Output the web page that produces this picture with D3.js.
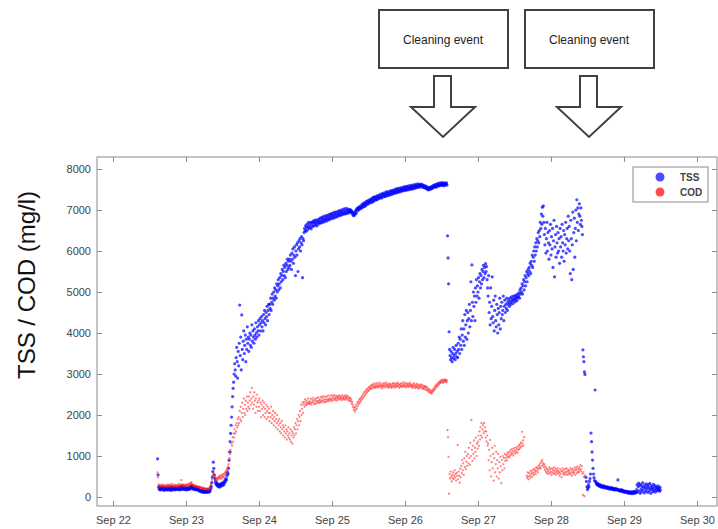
<!DOCTYPE html>
<html>
<head>
<meta charset="utf-8">
<script src="https://cdn.jsdelivr.net/npm/d3@7"></script>
<style>
body { margin: 0; background: #fff; }
text { font-family: "Liberation Sans", Arial, sans-serif; }
</style>
</head>
<body>
<svg width="718" height="529"></svg>
<script>
var svg = d3.select("svg"),
    plotLeft = 97, plotRight = 717, plotTop = 157, plotBottom = 506;

// sensor logs one sample every 10 minutes
var sampleMinutes = 10;

// axis ticks
let dayTicks = ["2015-09-22", "2015-09-23", "2015-09-24", "2015-09-25", "2015-09-26",
                "2015-09-27", "2015-09-28", "2015-09-29", "2015-09-30"];
let valueTicks = [0, 1000, 2000, 3000, 4000, 5000, 6000, 7000, 8000];

// TSS (mg/l)
let tssStartA = "2015-09-22T14:40:00Z";
let tssA = [
  930, 540, 250, 200, 180, 230, 170, 210, 190, 240, 200, 180, 220, 160, 190, 210, 230, 180, 200, 170,
  210, 180, 230, 190, 170, 220, 200, 160, 240, 190, 210, 180, 200, 230, 170, 190, 220, 200, 180, 210,
  190, 230, 210, 170, 250, 200, 180, 220, 260, 190, 210, 240, 180, 200, 230, 190, 210, 170, 220, 200,
  180, 210, 230, 190, 200, 250, 220, 270, 240, 200, 230, 190, 210, 180, 200, 220, 190, 170, 200, 180,
  170, 190, 150, 170, 140, 160, 130, 150, 120, 160, 140, 110, 150, 130, 120, 140, 110, 150, 130, 120,
  140, 120, 150, 130, 170, 210, 260, 350, 480, 620, 850, 700, 540, 450, 380, 330, 300, 350, 270, 310,
  260, 300, 240, 280, 320, 260, 300, 340, 280, 320, 360, 300, 350, 410, 380, 450, 420, 520, 600, 560,
  700, 900, 1100, 1350, 1550, 1750, 1950, 2200, 2450, 2650, 2800, 3000, 3250, 3100, 2950, 3400, 3650, 3300, 2900, 3550,
  3200, 3750, 4680, 3450, 3900, 3100, 4440, 3600, 3350, 3800, 4050, 3500, 3700, 3950, 3300, 3850, 3600, 4150, 3750, 3900,
  3550, 3850, 4000, 3700, 3950, 3650, 4200, 3800, 4050, 3900, 3750, 4100, 3950, 3850, 4250, 4000, 3900, 4150, 4050, 4300,
  3950, 4200, 4350, 4050, 4250, 4400, 4150, 4300, 4050, 4450, 4250, 4550, 4350, 4200, 4500, 4400, 4650, 4300, 4550, 4700,
  4450, 4700, 4600, 4850, 4550, 4750, 4950, 4700, 4850, 5000, 4800, 5100, 4900, 5050, 4850, 5200, 5000, 5150, 5300, 5050,
  5200, 5350, 5100, 5450, 5250, 5400, 5550, 5300, 5500, 5650, 5400, 5600, 5350, 5700, 5500, 5650, 5800, 5550, 5750, 5600,
  5800, 5650, 5900, 5750, 5550, 5950, 5800, 6050, 5700, 5900, 6100, 5850, 5400, 6000, 6150, 5900, 6200, 5500, 6050, 6250,
  6100, 6300, 6000, 6200, 6350, 6150, 5350, 6300, 6250, 6450, 6550, 6500, 6620, 6480, 6580, 6660, 6520, 6600, 6700, 6560,
  6640, 6580, 6700, 6540, 6680, 6620, 6720, 6600, 6690, 6750, 6630, 6710, 6660, 6760, 6610, 6700, 6740, 6650, 6780, 6690,
  6720, 6800, 6680, 6750, 6820, 6700, 6790, 6740, 6850, 6710, 6780, 6830, 6760, 6870, 6730, 6800, 6850, 6780, 6890, 6760,
  6830, 6900, 6800, 6860, 6920, 6790, 6880, 6840, 6940, 6810, 6890, 6950, 6850, 6910, 6830, 6970, 6880, 6930, 6860, 6990,
  6900, 6960, 6870, 6940, 7010, 6890, 6970, 6920, 7030, 6900, 6980, 6940, 7040, 6910, 6990, 6950, 7020, 6930, 7000, 6960,
  7010, 6950, 6990, 6930, 6960, 6880, 6930, 6860, 6920, 6880, 6950, 6990, 6920, 7020, 7040, 6980, 7060, 7010, 7080, 7030,
  7060, 7110, 7040, 7090, 7150, 7070, 7130, 7100, 7180, 7090, 7160, 7120, 7210, 7140, 7190, 7230, 7150, 7220, 7180, 7260,
  7200, 7250, 7180, 7280, 7230, 7310, 7210, 7270, 7320, 7240, 7300, 7260, 7340, 7250, 7310, 7360, 7280, 7330, 7290, 7380,
  7310, 7360, 7290, 7400, 7340, 7380, 7320, 7420, 7350, 7390, 7330, 7440, 7370, 7410, 7350, 7450, 7390, 7420, 7360, 7470,
  7400, 7440, 7380, 7480, 7420, 7460, 7400, 7500, 7430, 7470, 7410, 7520, 7450, 7490, 7430, 7530, 7460, 7500, 7440, 7540,
  7480, 7520, 7460, 7550, 7490, 7530, 7470, 7570, 7500, 7540, 7480, 7580, 7510, 7550, 7490, 7590, 7520, 7560, 7500, 7600,
  7530, 7570, 7510, 7610, 7550, 7580, 7520, 7620, 7560, 7590, 7540, 7630, 7570, 7600, 7550, 7640, 7580, 7610, 7560, 7620,
  7590, 7630, 7570, 7610, 7550, 7600, 7560, 7540, 7590, 7550, 7520, 7570, 7510, 7550, 7490, 7540, 7500, 7550, 7510, 7560,
  7520, 7570, 7530, 7590, 7550, 7600, 7560, 7620, 7570, 7600, 7560, 7630, 7580, 7650, 7600, 7620, 7590, 7660, 7610, 7640,
  7600, 7670, 7620, 7650, 7590, 7660, 7630, 7600, 7650, 7620, 7660, 7610
];

let tssStartB = "2015-09-26T14:00:00Z";
let tssB = [
  6370, 5830, 5200, 4030, 3600, 3450, 3350, 3550, 3400, 3300, 3500, 3650, 3380, 3450, 3600, 3350, 3500, 3700, 3420, 3550,
  3400, 3750, 3600, 3900, 3500, 3850, 3700, 4100, 3600, 3950, 4300, 3800, 4100, 3700, 4450, 3900, 4200, 4550, 3850, 4300,
  4500, 4000, 4350, 4700, 4150, 4550, 5250, 4300, 5660, 4750, 4400, 5000, 4650, 4900, 4300, 5100, 4750, 5300, 4900, 5150,
  5000, 5350, 4850, 5250, 5450, 5100, 5400, 5200, 5550, 5300, 5500, 5650, 5350, 5600, 5450, 5690, 5500, 5620, 5300, 5100,
  4900, 5400, 4500, 4750, 4200, 5100, 4350, 4650, 5370, 4400, 4250, 4800, 4050, 4550, 4900, 4300, 4150, 4700, 4450, 4000,
  4600, 4200, 4500, 4850, 4100, 4650, 4350, 4750, 4450, 4550, 4900, 4300, 4650, 4800, 4500, 4700, 4600, 4850, 4550, 4750,
  4700, 4800, 4650, 4850, 4750, 4700, 4880, 4780, 4820, 4720, 4900, 4800, 4850, 4760, 4920, 4830, 4880, 4790, 4950, 4870,
  4900, 4980, 4850, 5050, 4950, 5100, 5000, 5200, 4950, 5150, 5300, 5050, 5250, 5400, 5150, 5350, 5500, 5250, 5450, 5550,
  5400, 5600, 5500, 5700, 5450, 5750, 5650, 5900, 5600, 5850, 6000, 5750, 6100, 5900, 6200, 6000, 6300, 6100, 6250, 6450,
  6200, 6500, 6350, 6700, 6550, 6900, 6650, 7070, 6850, 7100, 6700, 6400, 6150, 6550, 5950, 6300, 6700, 6000, 6450, 6200,
  5800, 6500, 6150, 6650, 5900, 6350, 6050, 6550, 5600, 6250, 6750, 5370, 6100, 6400, 5850, 6600, 6200, 5950, 6450, 6000,
  6300, 5700, 6550, 6100, 6350, 5850, 6650, 6200, 6000, 6500, 5750, 6400, 6150, 6700, 5950, 6300, 6550, 6050, 6850, 6250,
  6600, 6000, 5450, 6750, 6300, 5300, 6150, 6950, 5550, 6450, 6800, 5850, 6550, 7000, 6250, 7250, 6700, 7050, 6500, 6900,
  7150, 6850, 6650, 7050, 6750, 6600, 6400, 3590, 3420, 3300, 3050, 2990
];

let tssStartC = "2015-09-28T11:30:00Z";
let tssC = [
  480, 380, 250, 180, 220, 300, 250, 380, 450, 560, 1560, 1350, 1100, 900, 700, 560, 470, 400, 2610, 380,
  350, 320, 300, 330, 280, 310, 270, 300, 250, 290, 270, 240, 280, 250, 230, 270, 240, 260, 220, 250,
  230, 210, 250, 220, 240, 200, 230, 210, 190, 220, 200, 230, 190, 210, 180, 200, 170, 210, 190, 180,
  200, 170, 190, 415, 160, 180, 150, 170, 140, 160, 180, 150, 130, 160, 140, 120, 150, 130, 110, 140,
  120, 140, 100, 130, 110, 90, 120, 100, 130, 90, 110, 80, 120, 100, 140, 90, 110, 130, 100, 120,
  180, 300, 120, 250, 340, 150, 280, 90, 310, 200, 130, 260, 350, 170, 240, 100, 290, 220, 140, 320,
  190, 260, 110, 300, 230, 150, 330, 200, 90, 270, 180, 240, 130, 310, 210, 160, 280, 120, 250, 190,
  230, 150, 270, 180, 210, 140, 240, 170
];

// COD (mg/l)
let codStartA = "2015-09-22T14:40:00Z";
let codA = [
  600, 480, 310, 270, 250, 290, 260, 240, 280, 300, 250, 270, 230, 290, 260, 250, 280, 240, 270, 300,
  260, 280, 240, 300, 270, 250, 290, 260, 320, 270, 240, 280, 260, 300, 250, 270, 290, 240, 280, 260,
  300, 270, 250, 320, 280, 260, 300, 410, 290, 270, 310, 260, 280, 300, 250, 290, 270, 310, 280, 260,
  290, 320, 280, 300, 340, 290, 330, 360, 300, 280, 310, 270, 290, 260, 280, 250, 270, 240, 260, 250,
  240, 260, 230, 250, 220, 240, 210, 230, 200, 220, 210, 190, 220, 200, 190, 210, 180, 200, 190, 210,
  200, 180, 210, 230, 260, 300, 350, 420, 520, 620, 580, 540, 480, 500, 440, 420, 460, 400, 450, 480,
  430, 500, 460, 520, 480, 440, 540, 500, 470, 560, 520, 480, 580, 540, 620, 580, 650, 700, 640, 750,
  800, 880, 950, 1050, 1150, 1100, 1300, 1250, 1460, 1350, 1550, 1450, 1650, 1550, 1750, 1600, 1800, 1700, 1900, 1750,
  1950, 1800, 2100, 1900, 2200, 1850, 2050, 2300, 1950, 2150, 2400, 2050, 2250, 2000, 2350, 2150, 2450, 2100, 2300, 2200,
  2450, 2150, 2350, 2550, 2250, 2400, 2660, 2300, 2150, 2450, 2250, 2550, 2350, 2050, 2400, 2200, 2500, 2300, 2100, 2350,
  2200, 2400, 2100, 2300, 1950, 2250, 2150, 2350, 2000, 2200, 2300, 1950, 2150, 2050, 2250, 1900, 2100, 2200, 1950, 2050,
  2150, 1850, 2050, 1950, 2200, 1800, 2000, 1900, 2100, 1750, 1950, 1850, 2050, 1700, 1900, 1800, 2000, 1650, 1850, 1750,
  1900, 1600, 1800, 1700, 1550, 1850, 1650, 1750, 1500, 1700, 1600, 1450, 1750, 1550, 1650, 1400, 1600, 1500, 1700, 1450,
  1550, 1400, 1650, 1350, 1500, 1600, 1300, 1550, 1450, 1700, 1500, 1650, 1800, 1550, 1750, 1900, 1650, 1850, 2000, 1750,
  1950, 2100, 1850, 2250, 2000, 2150, 2300, 2050, 2250, 2320, 2200, 2380, 2280, 2240, 2350, 2300, 2260, 2400, 2310, 2270,
  2330, 2280, 2400, 2300, 2250, 2370, 2320, 2420, 2290, 2360, 2260, 2390, 2330, 2280, 2410, 2340, 2300, 2430, 2350, 2290,
  2380, 2320, 2440, 2350, 2300, 2420, 2360, 2460, 2330, 2390, 2310, 2440, 2370, 2320, 2450, 2380, 2340, 2470, 2390, 2350,
  2420, 2370, 2480, 2390, 2340, 2450, 2400, 2490, 2360, 2430, 2380, 2470, 2410, 2350, 2460, 2400, 2440, 2370, 2480, 2420,
  2390, 2460, 2410, 2360, 2480, 2420, 2380, 2450, 2400, 2470, 2370, 2440, 2410, 2480, 2390, 2450, 2360, 2430, 2400, 2350,
  2420, 2330, 2380, 2270, 2320, 2200, 2250, 2130, 2180, 2080, 2200, 2130, 2250, 2160, 2300, 2220, 2330, 2270, 2380, 2310,
  2400, 2340, 2440, 2380, 2480, 2410, 2520, 2450, 2560, 2480, 2590, 2520, 2620, 2550, 2640, 2580, 2670, 2600, 2690, 2630,
  2660, 2720, 2640, 2700, 2750, 2660, 2730, 2680, 2770, 2700, 2660, 2740, 2690, 2780, 2710, 2670, 2750, 2700, 2790, 2720,
  2680, 2760, 2710, 2650, 2740, 2690, 2780, 2720, 2670, 2760, 2700, 2790, 2730, 2680, 2750, 2710, 2660, 2770, 2720, 2690,
  2750, 2700, 2660, 2760, 2710, 2780, 2690, 2740, 2670, 2770, 2720, 2680, 2760, 2710, 2790, 2700, 2750, 2660, 2740, 2700,
  2770, 2710, 2680, 2760, 2720, 2800, 2690, 2750, 2710, 2780, 2670, 2740, 2700, 2770, 2720, 2680, 2760, 2710, 2790, 2730,
  2690, 2750, 2700, 2660, 2740, 2690, 2770, 2710, 2650, 2730, 2680, 2760, 2700, 2660, 2740, 2690, 2640, 2720, 2680, 2750,
  2700, 2650, 2730, 2670, 2630, 2710, 2660, 2690, 2620, 2700, 2650, 2600, 2680, 2620, 2570, 2640, 2590, 2540, 2610, 2560,
  2520, 2590, 2550, 2620, 2580, 2650, 2610, 2690, 2640, 2720, 2680, 2750, 2700, 2770, 2730, 2800, 2760, 2820, 2780, 2840,
  2800, 2860, 2820, 2780, 2850, 2810, 2870, 2830, 2850, 2800, 2860, 2820
];

let codStartB = "2015-09-26T14:00:00Z";
let codB = [
  1630, 1460, 980, 80, 560, 450, 620, 500, 380, 540, 460, 600, 430, 520, 650, 480, 560, 400, 590, 510,
  1270, 430, 620, 520, 350, 690, 480, 760, 580, 900, 650, 820, 540, 950, 730, 1100, 680, 860, 1000, 760,
  1050, 820, 1200, 950, 780, 1320, 1000, 1880, 1150, 880, 1250, 1050, 1380, 940, 1200, 1100, 1450, 1000, 1300, 1180,
  1350, 1500, 1250, 1600, 1400, 1700, 1500, 1800, 1450, 1650, 1750, 1550, 1800, 1600, 1700, 1450, 1600, 1350, 1500, 1250,
  1300, 900, 1150, 650, 1390, 1000, 500, 850, 1200, 700, 1050, 400, 950, 1250, 600, 800, 1100, 500, 900, 700,
  1050, 450, 850, 600, 980, 750, 340, 900, 650, 1000, 800, 950, 700, 1050, 880, 960, 1020, 900, 1080, 980,
  1040, 960, 1100, 1000, 1140, 1030, 1080, 1170, 1050, 1120, 1010, 1190, 1090, 1140, 1060, 1210, 1110, 1170, 1080, 1230,
  1150, 1260, 1180, 1290, 1210, 1330, 1240, 1590, 1300, 1380, 1250, 1460, null, null, null, null, 520, 460, 600, 500,
  430, 580, 520, 640, 470, 560, 610, 500, 660, 580, 540, 690, 610, 650, 560, 720, 640, 700, 600, 750,
  680, 780, 720, 820, 700, 860, 760, 900, 830, 780, 720, 800, 660, 740, 620, 700, 580, 680, 620, 560,
  650, 720, 580, 680, 620, 540, 700, 600, 660, 560, 720, 630, 580, 690, 540, 650, 610, 700, 570, 640,
  600, 520, 680, 570, 640, 480, 620, 700, 560, 650, 590, 530, 680, 610, 560, 700, 620, 540, 660, 590,
  630, 550, 700, 580, 650, 520, 690, 610, 570, 660, 600, 720, 540, 650, 690, 580, 740, 620, 680, 600,
  720, 650, 780, 680, 620, 750, 560, 50, 600, 490, 20, 530
];

let seriesNames = ["TSS", "COD"];
let seriesColors = ["#0000ff", "#ff0000"];

function toPoints(start, values) {
    let t0 = new Date(start).getTime();
    return values
        .map(function(v, i) { return {t: new Date(t0 + i * sampleMinutes * 60000), v: v}; })
        .filter(function(d) { return d.v !== null; });
}

var tss = [].concat(toPoints(tssStartA, tssA), toPoints(tssStartB, tssB), toPoints(tssStartC, tssC));
var cod = [].concat(toPoints(codStartA, codA), toPoints(codStartB, codB));

// scales, Sep 22 sits a bit in from the left frame
var x = d3.scaleUtc()
    .domain([new Date("2015-09-21T18:45:00Z"), new Date("2015-09-30T06:35:00Z")])
    .range([plotLeft, plotRight]);
var y = d3.scaleLinear()
    .domain([-220, 8293])
    .range([plotBottom, plotTop]);

// frame
svg.append("rect")
    .attr("x", plotLeft).attr("y", plotTop)
    .attr("width", plotRight - plotLeft).attr("height", plotBottom - plotTop)
    .attr("fill", "none").attr("stroke", "#8c8c8c");

var ticksX = dayTicks.map(function(d) { return new Date(d + "T00:00:00Z"); });

var xAxis = svg.append("g")
    .attr("transform", "translate(0," + plotBottom + ")")
    .call(d3.axisBottom(x).tickValues(ticksX).tickFormat(d3.utcFormat("%b %d"))
        .tickSizeInner(-5).tickSizeOuter(0).tickPadding(10));
var xTop = svg.append("g")
    .attr("transform", "translate(0," + plotTop + ")")
    .call(d3.axisTop(x).tickValues(ticksX).tickFormat("").tickSizeInner(-5).tickSizeOuter(0));
var yAxis = svg.append("g")
    .attr("transform", "translate(" + plotLeft + ",0)")
    .call(d3.axisLeft(y).tickValues(valueTicks).tickFormat(d3.format("d"))
        .tickSizeInner(-5).tickSizeOuter(0).tickPadding(6));
var yRight = svg.append("g")
    .attr("transform", "translate(" + plotRight + ",0)")
    .call(d3.axisRight(y).tickValues(valueTicks).tickFormat("").tickSizeInner(-5).tickSizeOuter(0));

[xAxis, xTop, yAxis, yRight].forEach(function(g) {
    g.select(".domain").remove();
    g.selectAll("line").attr("stroke", "#8c8c8c");
    g.selectAll("text").attr("fill", "#444").style("font-size", "11px")
        .style("font-family", "'Liberation Sans', Arial, sans-serif");
});

svg.append("text")
    .attr("transform", "translate(35,285) rotate(-90)")
    .attr("text-anchor", "middle")
    .style("font-size", "24px")
    .attr("fill", "#111")
    .text("TSS / COD (mg/l)");

// points
svg.append("g").selectAll("circle")
    .data(tss)
    .join("circle")
    .attr("cx", function(d) { return x(d.t); })
    .attr("cy", function(d) { return y(d.v); })
    .attr("r", 1.6)
    .attr("fill", seriesColors[0])
    .attr("fill-opacity", 0.7);

svg.append("g").selectAll("circle")
    .data(cod)
    .join("circle")
    .attr("cx", function(d) { return x(d.t); })
    .attr("cy", function(d) { return y(d.v); })
    .attr("r", 1.1)
    .attr("fill", seriesColors[1])
    .attr("fill-opacity", 0.5);

// legend
var legend = svg.append("g").attr("transform", "translate(633,167)");
legend.append("rect")
    .attr("width", 75).attr("height", 35)
    .attr("fill", "#fff").attr("stroke", "#8c8c8c");
seriesNames.forEach(function(name, i) {
    legend.append("circle")
        .attr("cx", 27).attr("cy", 10 + i * 15).attr("r", 4.5)
        .attr("fill", seriesColors[i]).attr("fill-opacity", 0.7);
    legend.append("text")
        .attr("x", 47).attr("y", 14 + i * 15)
        .style("font-size", "10px").style("font-weight", "bold")
        .attr("fill", "#444")
        .text(name);
});

// cleaning event annotations
function annotation(cx) {
    var g = svg.append("g");
    g.append("rect")
        .attr("x", cx - 64).attr("y", 10)
        .attr("width", 129).attr("height", 58)
        .attr("fill", "#fff").attr("stroke", "#404040").attr("stroke-width", 2);
    g.append("text")
        .attr("x", cx).attr("y", 44)
        .attr("text-anchor", "middle")
        .style("font-size", "12px")
        .attr("fill", "#222")
        .text("Cleaning  event");
    // block arrow pointing down
    var pts = [[cx - 9, 76], [cx + 8, 76], [cx + 8, 107], [cx + 32, 107],
               [cx, 137], [cx - 32, 107], [cx - 9, 107]];
    g.append("path")
        .attr("d", "M" + pts.join("L") + "Z")
        .attr("fill", "#fff").attr("stroke", "#404040").attr("stroke-width", 2);
}
annotation(443);
annotation(589);
</script>
</body>
</html>
